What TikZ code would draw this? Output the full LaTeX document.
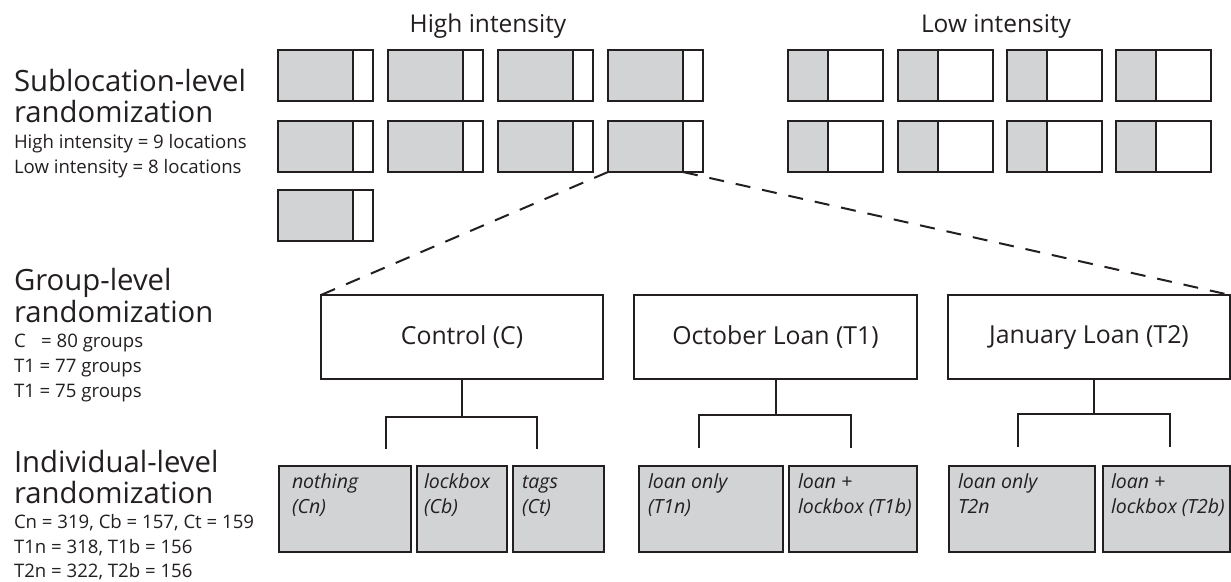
\documentclass[tikz,border=0pt]{standalone}
\usepackage{fontspec}
\setmainfont{Open Sans}
\usetikzlibrary{calc}
\definecolor{boxgray}{HTML}{D1D3D4}
\definecolor{ink}{HTML}{231F20}
\begin{document}
\begin{tikzpicture}[x=1pt,y=-1pt,color=ink,line width=2pt,
  hbox/.style={rectangle,draw,fill=white,minimum width=95pt,minimum height=51pt,
    anchor=north west,inner sep=0pt,outer sep=0pt,
    path picture={\fill[boxgray] (path picture bounding box.north west) rectangle ([xshift=75pt]path picture bounding box.south west);
      \draw ([xshift=75pt]path picture bounding box.north west) -- ([xshift=75pt]path picture bounding box.south west);}},
  lbox/.style={rectangle,draw,fill=white,minimum width=95pt,minimum height=51pt,
    anchor=north west,inner sep=0pt,outer sep=0pt,
    path picture={\fill[boxgray] (path picture bounding box.north west) rectangle ([xshift=40pt]path picture bounding box.south west);
      \draw ([xshift=40pt]path picture bounding box.north west) -- ([xshift=40pt]path picture bounding box.south west);}},
  midbox/.style={rectangle,draw,fill=white,minimum height=84pt,anchor=north west,
    inner sep=0pt,outer sep=0pt,font=\fontsize{24.8}{28}\selectfont},
  subbox/.style={rectangle,draw,fill=boxgray,minimum height=86pt,anchor=north west,
    inner sep=0pt,outer sep=0pt},
  subtext/.style={anchor=base west,inner sep=0pt,font=\itshape\fontsize{19.5}{22}\selectfont},
  title/.style={anchor=base west,inner sep=0pt,font=\fontsize{29.3}{31}\selectfont},
  detail/.style={anchor=base west,inner sep=0pt,font=\fontsize{18.6}{20}\selectfont},
  header/.style={anchor=base,inner sep=0pt,font=\fontsize{24.5}{26}\selectfont},
  link/.style={line width=2pt},
  dashlink/.style={line width=2pt,dash pattern=on 15pt off 12pt}
]
\useasboundingbox[fill=white] (0,0) rectangle (1231,581);

% headers
\node[header] (hhigh) at (488,32) {High intensity};
\node[header] (hlow) at (996,32) {Low intensity};

% left labels
\node[title] (s1) at (13,91) {Sublocation-level};
\node[title] (s2) at (13,122) {randomization};
\node[detail] (s3) at (13,148) {High intensity = 9 locations};
\node[detail] (s4) at (13,173) {Low intensity = 8 locations};

\node[title] (g1) at (13,290) {Group-level};
\node[title] (g2) at (13,322) {randomization};
\node[detail] (g3) at (13,347) {C\phantom{1} = 80 groups};
\node[detail] (g4) at (13,372) {T1 = 77 groups};
\node[detail] (g5) at (13,397) {T1 = 75 groups};

\node[title] (i1) at (13,472) {Individual-level};
\node[title] (i2) at (13,503) {randomization};
\node[detail] (i3) at (13,528) {Cn = 319, Cb = 157, Ct = 159};
\node[detail] (i4) at (13,553) {T1n = 318, T1b = 156};
\node[detail] (i5) at (13,577) {T2n = 322, T2b = 156};

% sublocation boxes
\foreach \x [count=\i] in {278,388,498,608} {
  \node[hbox] (hA\i) at (\x,50) {};
  \node[hbox] (hB\i) at (\x,121) {};
}
\node[hbox] (hC1) at (278,190) {};
\foreach \x [count=\i] in {788,898,1007,1116} {
  \node[lbox] (lA\i) at (\x,50) {};
  \node[lbox] (lB\i) at (\x,121) {};
}

% group boxes
\node[midbox,minimum width=282pt] (ctrl) at (321,295) {Control (C)};
\node[midbox,minimum width=283pt] (oct) at (634,295) {October Loan (T1)};
\node[midbox,minimum width=282pt] (jan) at (948,295) {January Loan (T2)};

% zoom lines
\coordinate (hdiv) at ([xshift=75pt]hB4.south west);
\draw[dashlink] (hB4.south west) -- (ctrl.north west);
\draw[dashlink] (hdiv) -- (jan.north east);

% individual boxes
\node[subbox,minimum width=132pt] (cn) at (279,466) {};
\node[subbox,minimum width=90pt] (cb) at (417,466) {};
\node[subbox,minimum width=91pt] (ct) at (513,466) {};
\node[subbox,minimum width=144pt] (t1n) at (639,466) {};
\node[subbox,minimum width=128pt] (t1b) at (789,466) {};
\node[subbox,minimum width=146pt] (t2n) at (949,466) {};
\node[subbox,minimum width=127pt] (t2b) at (1103,466) {};

\node[subtext] (cn1) at (291,488) {nothing};
\node[subtext] (cn2) at (291,513) {(Cn)};
\node[subtext] (cb1) at (423,488) {lockbox};
\node[subtext] (cb2) at (423,513) {(Cb)};
\node[subtext] (ct1) at (521,488) {tags};
\node[subtext] (ct2) at (521,513) {(Ct)};
\node[subtext] (t1n1) at (647,488) {loan only};
\node[subtext] (t1n2) at (647,513) {(T1n)};
\node[subtext] (t1b1) at (797,488) {loan +};
\node[subtext] (t1b2) at (797,513) {lockbox (T1b)};
\node[subtext] (t2n1) at (957,488) {loan only};
\node[subtext] (t2n2) at (957,513) {T2n};
\node[subtext] (t2b1) at (1110,488) {loan +};
\node[subtext] (t2b2) at (1110,513) {lockbox (T2b)};

% brackets
\coordinate (cj) at (462,417);
\coordinate (cl) at (386,449);
\coordinate (cr) at (537,449);
\draw[link] (ctrl.south) -- (cj);
\draw[link] (cl) |- (cj) -| (cr);

\coordinate (oj) at (776,415);
\coordinate (ol) at (699,448);
\coordinate (or) at (851,448);
\draw[link] (oct.south -| oj) -- (oj);
\draw[link] (ol) |- (oj) -| (or);

\coordinate (jj) at (1094,414);
\coordinate (jl) at (1018,447);
\coordinate (jr) at (1170,447);
\draw[link] (jan.south -| jj) -- (jj);
\draw[link] (jl) |- (jj) -| (jr);
\end{tikzpicture}
\end{document}
